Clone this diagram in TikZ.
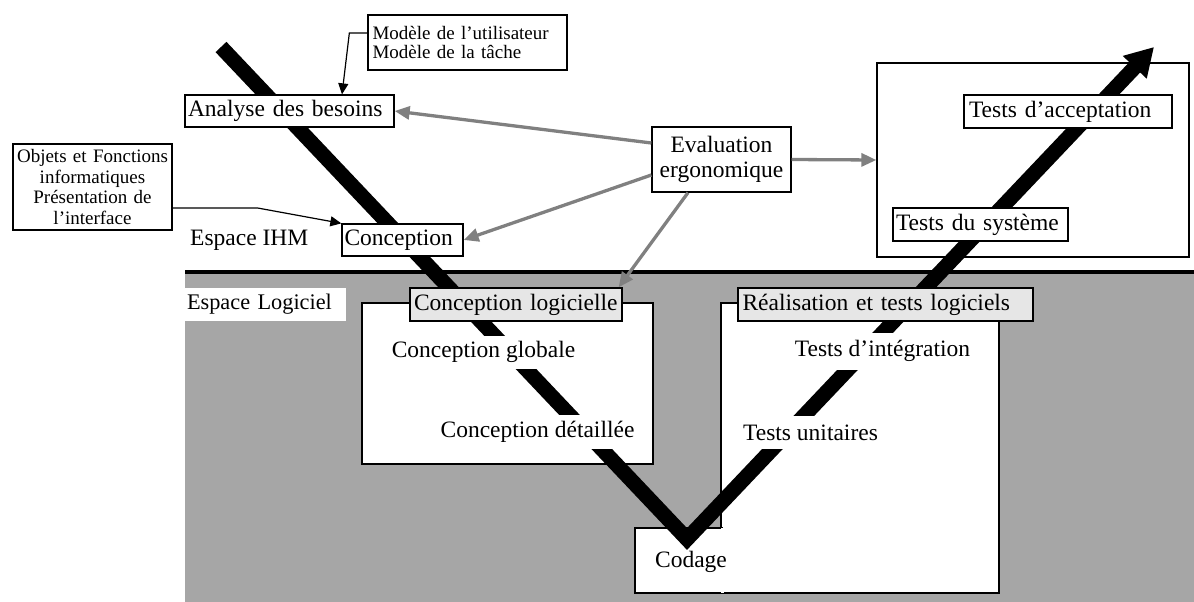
\documentclass[tikz,border=0pt]{standalone}
\usepackage{fontspec}
\setmainfont{Liberation Serif}
\usetikzlibrary{arrows.meta}
\definecolor{bggray}{HTML}{A6A6A6}
\definecolor{lightbox}{HTML}{E6E6E6}
\definecolor{arrgray}{HTML}{808080}
\tikzset{
  box/.style={draw, line width=1.3pt, fill=white, inner sep=0pt, rectangle},
  big/.style={font=\fontsize{23.5}{25}\selectfont},
  mid/.style={font=\fontsize{22.3}{25}\selectfont},
  small/.style={font=\fontsize{19}{19}\selectfont},
  grayarrow/.style={draw=arrgray, line width=3.3pt, -{Triangle[length=15pt,width=13pt]}, arrgray},
  thinarrow/.style={draw=black, line width=1.2pt, -{Triangle[length=11pt,width=10pt]}},
  vline/.style={line width=15pt, line join=miter, line cap=butt, -{Triangle[length=28pt,width=31pt]}},
  onv/.style={fill=white, inner xsep=2pt, inner ysep=0pt}
}
\begin{document}
\begin{tikzpicture}[x=1pt,y=-1pt]
\useasboundingbox (0,0) rectangle (1194,602);
% background of software space
\fill[bggray] (185,272) rectangle (1194,602);
\coordinate (sepL) at (185,272);
\coordinate (sepR) at (1194,272);
\draw[line width=4pt] (sepL) -- (sepR);

% white regions
\node[box, minimum width=291pt, minimum height=161pt] (lbox) at (507.5,383.5) {};
\node[box, minimum width=278pt, minimum height=290pt] (rbox) at (860,448) {};
\node[box, minimum width=312pt, minimum height=194pt] (tbox) at (1033,160) {};
\node[box, minimum width=87pt, minimum height=65pt] (codagebox) at (678.5,560.5) {};
\fill[white] ([xshift=-1.2pt,yshift=-1pt]codagebox.north east) rectangle ([xshift=1.2pt,yshift=1pt]codagebox.south east);

% the V
\coordinate (vtop) at (221,47);
\coordinate (vbot) at (687,539);
\coordinate (vtip) at (1154,47);
\draw[vline] (vtop) -- (vbot) -- (vtip);

% texts on the V
\node[onv, big, minimum height=33pt] (cglob) at (483.5,352) {Conception globale};
\node[onv, big, minimum height=34pt] (cdet) at (537.5,432) {Conception détaillée};
\node[onv, big, minimum height=37pt] (tinteg) at (882.5,351) {Tests d’intégration};
\node[onv, big, minimum height=33pt] (tunit) at (810.5,432.5) {Tests unitaires};
\node[big, inner sep=0pt] (codage) at (691,562) {Codage};

% boxes
\node[box, big, minimum width=209pt, minimum height=32pt, text width=203pt, align=left] (analyse) at (289.5,111) {Analyse des besoins};
\node[box, big, minimum width=121pt, minimum height=32pt, text width=116pt, align=left] (concep) at (402.5,240) {Conception};
\node[box, small, minimum width=199pt, minimum height=55pt, text width=190pt, align=left, font=\fontsize{19}{18.5}\selectfont] (modele) at (467.5,42.5) {Modèle de l’utilisateur\\Modèle de la tâche};
\node[box, minimum width=159pt, minimum height=86pt, text width=157pt, align=center, font=\fontsize{19}{20.5}\selectfont] (objets) at (92.5,187) {Objets et Fonctions\\informatiques\\Présentation de\\l’interface};
\node[box, big, minimum width=139pt, minimum height=65pt, text width=137pt, align=center] (eval) at (721.5,159.5) {Evaluation\\ergonomique};
\node[box, big, minimum width=208pt, minimum height=33pt, text width=198pt, align=left] (taccept) at (1068,111.5) {Tests d’acceptation};
\node[box, big, minimum width=175pt, minimum height=33pt, text width=169pt, align=left] (tsys) at (980.5,224.5) {Tests du système};
\node[big, anchor=west, inner sep=0pt] (eihm) at (190,240) {Espace IHM};
\node[fill=white, mid, minimum width=161pt, minimum height=33pt, text width=157pt, inner sep=0pt, align=left] (elog) at (265.5,304.5) {Espace Logiciel};
\node[box, fill=lightbox, big, minimum width=212pt, minimum height=33pt, text width=204pt, align=left] (clog) at (516,304.5) {Conception logicielle};
\node[box, fill=lightbox, big, minimum width=295pt, minimum height=33pt, text width=286pt, align=left] (real) at (885.5,304.5) {Réalisation et tests logiciels};

% connectors
\draw[thinarrow] ([yshift=9.5pt]modele.west) -- ++(-18,0) -- ([xshift=52.5pt]analyse.north);
\draw[thinarrow] ([yshift=-21pt]objets.east) -- ++(85,0) -- (concep.north west);
\draw[grayarrow] ([yshift=16.5pt]eval.west) -- (analyse.east);
\draw[grayarrow] ([yshift=-15.5pt]eval.west) -- (concep.east);
\draw[grayarrow] (eval.east) -- (tbox.west);
\draw[grayarrow] ([xshift=-33.5pt]eval.south) -- ([xshift=-4pt]clog.north east);
\end{tikzpicture}
\end{document}
